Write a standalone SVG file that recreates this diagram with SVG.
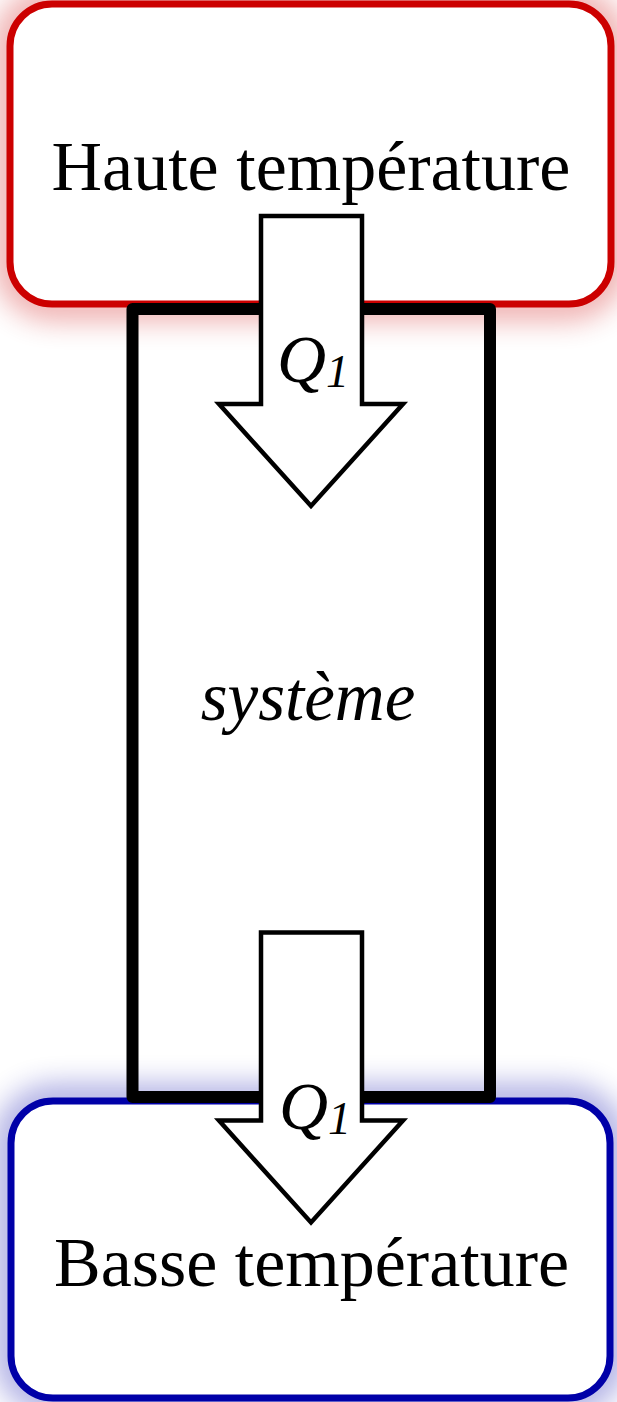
<svg xmlns="http://www.w3.org/2000/svg" width="617" height="1402" viewBox="0 0 617 1402">
  <defs>
    <filter id="glow" x="-25%" y="-50%" width="150%" height="200%">
      <feGaussianBlur stdDeviation="16"/>
    </filter>
    <style>
      .reservoir { fill: #ffffff; stroke-width: 7; }
      .hot { stroke: #cc0000; }
      .cold { stroke: #0000a8; }
      .halo { fill: none; stroke-width: 24; opacity: 0.45; filter: url(#glow); }
      .wall { fill: none; stroke: #000000; stroke-width: 12; stroke-linejoin: round; }
      .flow { fill: #ffffff; stroke: #000000; stroke-width: 4.5; stroke-linejoin: miter; }
      .label { font-family: "Liberation Serif", "Times New Roman", serif; fill: #000000; }
      .big { font-size: 70px; }
      .ital { font-style: italic; }
    </style>
  </defs>

  <rect width="617" height="1402" fill="#ffffff"/>

  <!-- soft coloured halos behind the two reservoirs -->
  <rect class="halo hot" x="10" y="4" width="601" height="300" rx="42"/>
  <rect class="halo cold" x="11" y="1101" width="599" height="297" rx="42"/>

  <!-- hot reservoir -->
  <g id="hot-reservoir">
    <rect class="reservoir hot" x="10" y="4" width="601" height="300" rx="42"/>
    <text class="label big" x="311" y="190" text-anchor="middle">Haute température</text>
  </g>

  <!-- cold reservoir -->
  <g id="cold-reservoir">
    <rect class="reservoir cold" x="11" y="1101" width="599" height="297" rx="42"/>
    <text class="label big" x="311.5" y="1286" text-anchor="middle">Basse température</text>
  </g>

  <!-- the system between the reservoirs -->
  <g id="system">
    <rect class="wall" x="132.5" y="309" width="357.5" height="788"/>
    <text class="label ital" x="308" y="720" font-size="69" text-anchor="middle">système</text>
  </g>

  <!-- heat flows -->
  <g id="connectors">
    <g id="heat-in">
      <polygon class="flow" points="261,216 362,216 362,404 403,404 311,506 219,404 261,404"/>
      <text class="label ital" x="277" y="382" font-size="68">Q<tspan font-size="46" dy="5">1</tspan></text>
    </g>
    <g id="heat-out">
      <polygon class="flow" points="261,932.5 362,932.5 362,1120.5 403,1120.5 311,1222.5 219,1120.5 261,1120.5"/>
      <text class="label ital" x="279" y="1129" font-size="68">Q<tspan font-size="46" dy="5">1</tspan></text>
    </g>
  </g>
</svg>
